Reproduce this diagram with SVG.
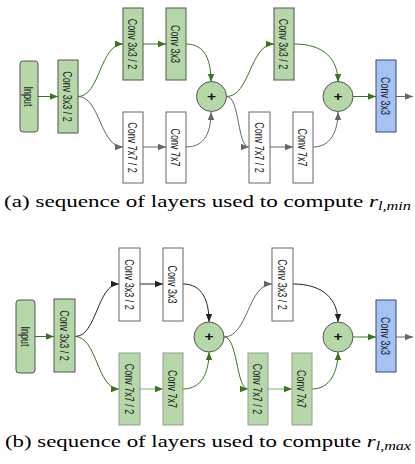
<svg xmlns="http://www.w3.org/2000/svg" width="415" height="464" viewBox="0 0 415 464">
<defs>
<style>
.g{fill:#b6d7a8;stroke:#555;stroke-width:1}
.g2{fill:#b6d7a8;stroke:#999;stroke-width:1}
.w{fill:#fff;stroke:#666;stroke-width:1}
.b{fill:#a4c2f4;stroke:#3c4a6a;stroke-width:1}
.lbl{font-family:"Liberation Sans",Arial,sans-serif;font-size:9px;fill:#222;text-anchor:middle;dominant-baseline:central}
.plus{font-family:"Liberation Sans",Arial,sans-serif;font-size:12px;font-weight:bold;fill:#111;text-anchor:middle;dominant-baseline:central}
.eg{fill:none;stroke:#38761d;stroke-width:1;marker-end:url(#ag)}
.ek{fill:none;stroke:#666;stroke-width:1;marker-end:url(#ak)}
.eb{fill:none;stroke:#222;stroke-width:1;marker-end:url(#ab)}
.el{fill:none;stroke:#93c47d;stroke-width:1.2;marker-end:url(#ag)}
.cap{font-family:"Liberation Serif","Times New Roman",serif;font-size:17px;fill:#000}
</style>
<marker id="ag" viewBox="0 0 10 10" refX="10" refY="5" markerWidth="9" markerHeight="8" markerUnits="userSpaceOnUse" orient="auto"><path d="M0,1L10,5L0,9z" fill="#38761d"/></marker>
<marker id="ak" viewBox="0 0 10 10" refX="10" refY="5" markerWidth="9" markerHeight="8" markerUnits="userSpaceOnUse" orient="auto"><path d="M0,1L10,5L0,9z" fill="#666"/></marker>
<marker id="ab" viewBox="0 0 10 10" refX="10" refY="5" markerWidth="9" markerHeight="8" markerUnits="userSpaceOnUse" orient="auto"><path d="M0,1L10,5L0,9z" fill="#222"/></marker>
</defs>

<!-- Diagram (a) -->
<g id="edges-a">
<path class="eg" d="M38,96.5L58,96.5"/>
<path class="eg" d="M78,96.5C100,96.5 100,44 123,44"/>
<path class="ek" d="M78,96.5C100,96.5 100,147 123,147"/>
<path class="eg" d="M143,44L166,44"/>
<path class="ek" d="M143,147L166,147"/>
<path class="eg" d="M186,44C205,44 211,60 211,82"/>
<path class="ek" d="M186,147C205,147 211,132 211,112"/>
<path class="eg" d="M226.5,96.5C250,96.5 250,44 274,44"/>
<path class="ek" d="M226.5,96.5C240,96.5 237,147 249,147"/>
<path class="ek" d="M270,147L293,147"/>
<path class="eg" d="M294,44C325,44 338,60 338,82"/>
<path class="ek" d="M313,147C330,147 338,132 338,112"/>
<path class="eg" d="M353,96.5L376,96.5"/>
<path class="ek" d="M396,96.5L413,96.5"/>
</g>
<g id="a-input"><rect class="g" x="20" y="61" width="18" height="71" rx="3"/><text class="lbl" transform="translate(29,96.5) scale(1.35,1) rotate(90)">Input</text></g>
<g id="a-conv1"><rect class="g" x="58" y="60" width="20" height="73"/><text class="lbl" transform="translate(68,96.5) scale(1.35,1) rotate(90)">Conv 3x3 / 2</text></g>
<g id="a-top1"><rect class="g" x="123" y="8" width="20" height="72"/><text class="lbl" transform="translate(133,44) scale(1.35,1) rotate(90)">Conv 3x3 / 2</text></g>
<g id="a-top2"><rect class="g" x="166" y="8" width="20" height="72"/><text class="lbl" transform="translate(176,44) scale(1.35,1) rotate(90)">Conv 3x3</text></g>
<g id="a-bot1"><rect class="w" x="123" y="112" width="20" height="71"/><text class="lbl" transform="translate(133,147.5) scale(1.35,1) rotate(90)">Conv 7x7 / 2</text></g>
<g id="a-bot2"><rect class="w" x="166" y="112" width="20" height="71"/><text class="lbl" transform="translate(176,147.5) scale(1.35,1) rotate(90)">Conv 7x7</text></g>
<g id="a-sum1"><circle class="g" cx="211.5" cy="96.5" r="15"/><text class="plus" transform="translate(211.5,96.5) scale(1.3,1)">+</text></g>
<g id="a-top3"><rect class="g" x="274" y="8" width="20" height="72"/><text class="lbl" transform="translate(284,44) scale(1.35,1) rotate(90)">Conv 3x3 / 2</text></g>
<g id="a-bot3"><rect class="w" x="249" y="112" width="21" height="71"/><text class="lbl" transform="translate(259.5,147.5) scale(1.35,1) rotate(90)">Conv 7x7 / 2</text></g>
<g id="a-bot4"><rect class="w" x="293" y="112" width="20" height="71"/><text class="lbl" transform="translate(303,147.5) scale(1.35,1) rotate(90)">Conv 7x7</text></g>
<g id="a-sum2"><circle class="g" cx="338" cy="96.5" r="15"/><text class="plus" transform="translate(338,96.5) scale(1.3,1)">+</text></g>
<g id="a-out"><rect class="b" x="376" y="60" width="20" height="72"/><text class="lbl" transform="translate(386,96) scale(1.35,1) rotate(90)">Conv 3x3</text></g>

<text class="cap" x="4" y="207" textLength="407" lengthAdjust="spacingAndGlyphs">(a) sequence of layers used to compute <tspan font-style="italic">r</tspan><tspan font-style="italic" font-size="12" dy="3">l,min</tspan></text>

<!-- Diagram (b) -->
<g id="edges-b">
<path class="eg" d="M35,336.5L54,336.5"/>
<path class="eb" d="M75,336.5C97,336.5 97,284 119,284"/>
<path class="eg" d="M75,336.5C97,336.5 97,389 119,389"/>
<path class="eb" d="M140,284L163,284"/>
<path class="el" d="M140,389L163,389"/>
<path class="eb" d="M183,284C202,284 209,300 209,322"/>
<path class="eg" d="M183,389C202,389 209,372 209,352"/>
<path class="ek" d="M224,337C248,337 248,284 272,284"/>
<path class="eg" d="M224,337C238,337 236,389 248,389"/>
<path class="el" d="M268,389L292,389"/>
<path class="eb" d="M293,284C324,284 338,300 338,322"/>
<path class="eg" d="M312,389C330,389 338,372 338,352"/>
<path class="eg" d="M353,337L376,337"/>
<path class="ek" d="M396,337L413,337"/>
</g>
<g id="b-input"><rect class="g" x="16" y="300" width="19" height="73" rx="3"/><text class="lbl" transform="translate(25.5,336.5) scale(1.35,1) rotate(90)">Input</text></g>
<g id="b-conv1"><rect class="g" x="54" y="299" width="21" height="73"/><text class="lbl" transform="translate(64.5,335.5) scale(1.35,1) rotate(90)">Conv 3x3 / 2</text></g>
<g id="b-top1"><rect class="w" x="119" y="248" width="21" height="73"/><text class="lbl" transform="translate(129.5,284.5) scale(1.35,1) rotate(90)">Conv 3x3 / 2</text></g>
<g id="b-top2"><rect class="w" x="163" y="248" width="20" height="73"/><text class="lbl" transform="translate(173,284.5) scale(1.35,1) rotate(90)">Conv 3x3</text></g>
<g id="b-bot1"><rect class="g2" x="119" y="353" width="21" height="72"/><text class="lbl" transform="translate(129.5,389) scale(1.35,1) rotate(90)">Conv 7x7 / 2</text></g>
<g id="b-bot2"><rect class="g2" x="163" y="353" width="20" height="72"/><text class="lbl" transform="translate(173,389) scale(1.35,1) rotate(90)">Conv 7x7</text></g>
<g id="b-sum1"><circle class="g" cx="209" cy="337" r="15"/><text class="plus" transform="translate(209,337) scale(1.3,1)">+</text></g>
<g id="b-top3"><rect class="w" x="272" y="248" width="21" height="73"/><text class="lbl" transform="translate(282.5,284.5) scale(1.35,1) rotate(90)">Conv 3x3 / 2</text></g>
<g id="b-bot3"><rect class="g2" x="248" y="353" width="20" height="72"/><text class="lbl" transform="translate(258,389) scale(1.35,1) rotate(90)">Conv 7x7 / 2</text></g>
<g id="b-bot4"><rect class="g2" x="292" y="353" width="20" height="72"/><text class="lbl" transform="translate(302,389) scale(1.35,1) rotate(90)">Conv 7x7</text></g>
<g id="b-sum2"><circle class="g" cx="338" cy="337" r="15"/><text class="plus" transform="translate(338,337) scale(1.3,1)">+</text></g>
<g id="b-out"><rect class="b" x="376" y="300" width="20" height="72"/><text class="lbl" transform="translate(386,336) scale(1.35,1) rotate(90)">Conv 3x3</text></g>

<text class="cap" x="5" y="447" textLength="406" lengthAdjust="spacingAndGlyphs">(b) sequence of layers used to compute <tspan font-style="italic">r</tspan><tspan font-style="italic" font-size="12" dy="3">l,max</tspan></text>
</svg>
